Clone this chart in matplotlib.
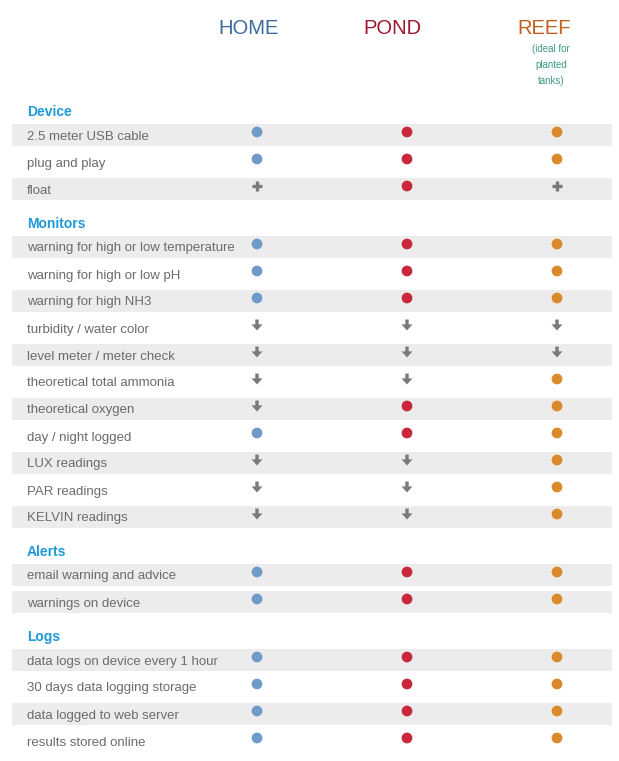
import matplotlib
matplotlib.use("Agg")
import matplotlib.pyplot as plt
from matplotlib.path import Path

# ---- data ----
products = ["HOME", "POND", "REEF"]
product_colors = ["#3f6a9c", "#9c1a30", "#c0601c"]
dot_colors = ["#6f9bc9", "#c9273c", "#da8a2a"]
reef_note = "(ideal for\nplanted\ntanks)"

sections = ["Device", "Monitors", "Alerts", "Logs"]
device_features = ["2.5 meter USB cable", "plug and play", "float"]
device_status = [["yes", "yes", "yes"], ["yes", "yes", "yes"], ["plus", "yes", "plus"]]
device_shaded = [True, False, True]

monitor_features = ["warning for high or low temperature", "warning for high or low pH",
                    "warning for high NH3", "turbidity / water color",
                    "level meter / meter check", "theoretical total ammonia",
                    "theoretical oxygen", "day / night logged", "LUX readings",
                    "PAR readings", "KELVIN readings"]
monitor_status = [["yes", "yes", "yes"], ["yes", "yes", "yes"], ["yes", "yes", "yes"],
                  ["down", "down", "down"], ["down", "down", "down"],
                  ["down", "down", "yes"], ["down", "yes", "yes"], ["yes", "yes", "yes"],
                  ["down", "down", "yes"], ["down", "down", "yes"], ["down", "down", "yes"]]
monitor_shaded = [True, False, True, False, True, False, True, False, True, False, True]

alert_features = ["email warning and advice", "warnings on device"]
alert_status = [["yes", "yes", "yes"], ["yes", "yes", "yes"]]
alert_shaded = [True, True]

log_features = ["data logs on device every 1 hour", "30 days data logging storage",
                "data logged to web server", "results stored online"]
log_status = [["yes", "yes", "yes"]] * 4
log_shaded = [True, False, True, False]

section_data = [(device_features, device_status, device_shaded),
                (monitor_features, monitor_status, monitor_shaded),
                (alert_features, alert_status, alert_shaded),
                (log_features, log_status, log_shaded)]

# ---- layout ----
W, H = 619, 761
fig = plt.figure(figsize=(W / 100, H / 100), dpi=100)
ax = fig.add_axes([0, 0, 1, 1])
ax.set_xlim(0, W)
ax.set_ylim(H, 0)
ax.axis("off")

FONT = "Liberation Sans"
text_color = "#6b6b6b"
section_color = "#1f9ad8"
shade_color = "#ececec"
icon_gray = "#7a7a7a"

# chunky down-arrow marker
arrow_marker = Path([(-0.28, 0.9), (0.28, 0.9), (0.28, 0.1), (0.9, 0.1), (0.0, -0.9),
                     (-0.9, 0.1), (-0.28, 0.1), (-0.28, 0.9)],
                    [Path.MOVETO] + [Path.LINETO] * 6 + [Path.CLOSEPOLY])

col_x = [257, 407, 557]
head_x = [249, 392, 544]
band_x0, band_x1 = 12, 612
text_x = 27
row_h = 22
pitch = 27

# column headers
for name, c, x in zip(products, product_colors, head_x):
    ax.text(x, 29, name, color=c, fontsize=14.5, ha="center", va="center", family=FONT)
ax.text(551, 65, reef_note, color="#3a9a86", fontsize=7, ha="center", va="center",
        family=FONT, linespacing=1.75)

y = 111
for sec, (feats, stats, shaded) in zip(sections, section_data):
    ax.text(text_x, y + 1, sec, color=section_color, fontsize=10, fontweight="bold",
            ha="left", va="center", family=FONT)
    y += 24
    for feat, st, sh in zip(feats, stats, shaded):
        if sh:
            ax.add_patch(plt.Rectangle((band_x0, y - row_h / 2), band_x1 - band_x0, row_h,
                                       color=shade_color, lw=0, zorder=0))
        ax.text(text_x, y + 1.5, feat, color=text_color, fontsize=9.5, ha="left",
                va="center", family=FONT)
        for j, s in enumerate(st):
            iy = y - 3
            if s == "yes":
                ax.scatter([col_x[j]], [iy], s=60, color=dot_colors[j], zorder=3,
                           edgecolors="none")
            elif s == "plus":
                ax.scatter([col_x[j]], [iy], s=60, marker="+", color=icon_gray,
                           linewidths=2.4, zorder=3)
            else:
                ax.scatter([col_x[j]], [iy], s=62, marker=arrow_marker, color=icon_gray,
                           edgecolors="none", zorder=3)
        y += pitch
    y += 34 - pitch

fig.savefig("out.png", dpi=100)
